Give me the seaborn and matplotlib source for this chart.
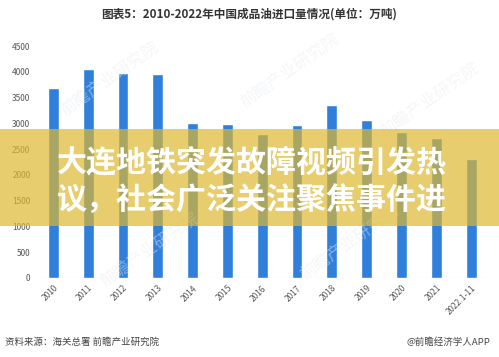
import matplotlib
matplotlib.use("Agg")
import matplotlib.pyplot as plt
from matplotlib.patches import Rectangle
import seaborn as sns
import pandas as pd

years = ["2010", "2011", "2012", "2013", "2014", "2015", "2016", "2017",
         "2018", "2019", "2020", "2021", "2022.1-11"]
imports = [3688, 4060, 3982, 3959, 2999, 2990, 2784, 2964, 3348, 3056, 2835, 2712, 2300]
yticks = [0, 500, 1000, 1500, 2000, 2500, 3000, 3500, 4000, 4500]

title = "图表5：2010-2022年中国成品油进口量情况(单位：万吨)"
source = "资料来源：海关总署 前瞻产业研究院"
credit = "@前瞻经济学人APP"
banner_lines = ["大连地铁突发故障视频引发热", "议，社会广泛关注聚焦事件进"]

sns.set_theme(style="white")
plt.rcParams["font.family"] = ["Noto Sans CJK SC", "DejaVu Sans"]

df = pd.DataFrame({"year": years, "value": imports})

fig = plt.figure(figsize=(4.99, 3.57), dpi=100)
ax = fig.add_axes([0.072, 0.2213, 0.907, 0.6498])
sns.barplot(data=df, x="year", y="value", color="#2F7FDB", width=0.31,
            saturation=1, ax=ax)
ax.set_ylim(0, 4500)
ax.set_xlim(-0.5, len(years) - 0.5)
ax.set_yticks(yticks)
ax.set_yticklabels([str(v) for v in yticks], fontsize=6, color="#555555")
ax.set_xticks(range(len(years)))
ax.set_xticklabels(years, rotation=45, fontsize=6, color="#555555",
                   ha="right", rotation_mode="anchor")
ax.tick_params(axis="both", length=0, pad=4)
ax.set_xlabel("")
ax.set_ylabel("")
for s in ax.spines.values():
    s.set_visible(False)
ax.axhline(0, color="#d9d9d9", lw=0.8, zorder=0)

# faint watermarks
for (wx, wy) in [(0.22, 0.78), (0.58, 0.80), (0.86, 0.72), (0.30, 0.30), (0.70, 0.32)]:
    fig.text(wx, wy, "前瞻产业研究院", fontsize=12, color="#e8ecf1", alpha=0.45,
             rotation=35, ha="center", va="center", zorder=3)

fig.text(0.5, 1 - 14 / 357, title, fontsize=8.4, fontweight="bold",
         color="#333333", ha="center", va="center")
fig.text(5 / 499, 1 - 342.5 / 357, source, fontsize=6.8, color="#444444",
         ha="left", va="center")
fig.text(490 / 499, 1 - 342.5 / 357, credit, fontsize=6.8, color="#444444",
         ha="right", va="center")

# banner overlay
fig.add_artist(Rectangle((0, 1 - 226 / 357), 1, 97 / 357, transform=fig.transFigure,
                         facecolor=(222 / 255, 184 / 255, 48 / 255), alpha=0.7,
                         edgecolor="none", zorder=5))
fig.text(57 / 499, 1 - 162 / 357, banner_lines[0], fontsize=21.6, fontweight="heavy",
         color="white", ha="left", va="center", zorder=6)
fig.text(57 / 499, 1 - 201 / 357, banner_lines[1], fontsize=21.6, fontweight="heavy",
         color="white", ha="left", va="center", zorder=6)

fig.savefig("out.png", dpi=100)
